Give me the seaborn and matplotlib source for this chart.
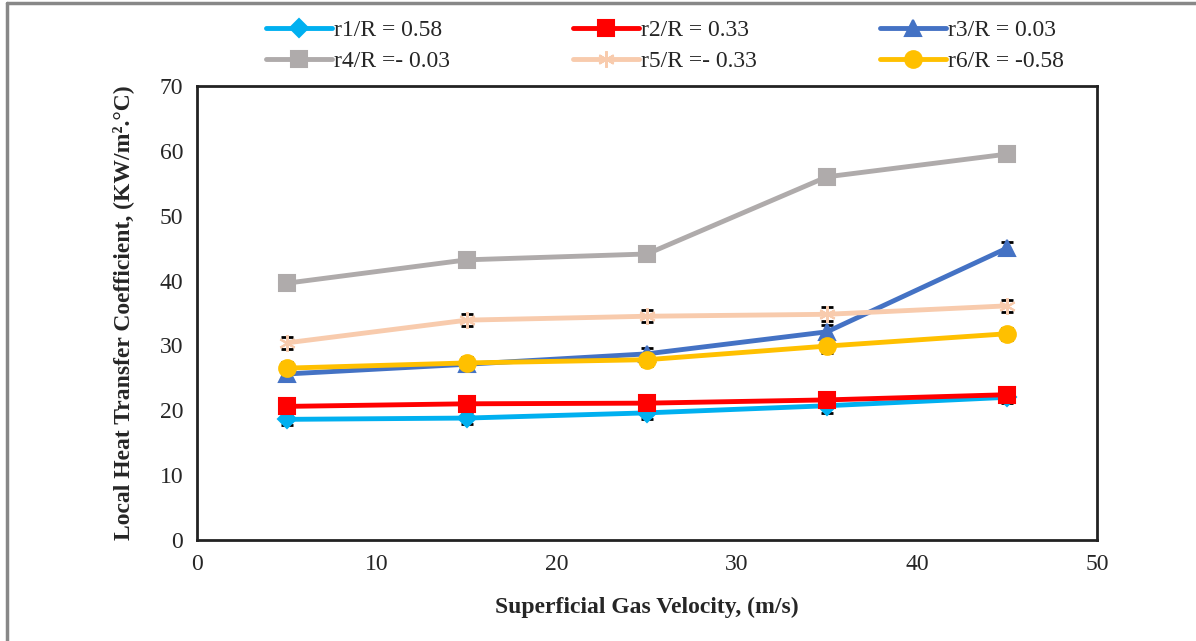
import numpy as np
import pandas as pd
import matplotlib.pyplot as plt
import seaborn as sns

# Superficial gas velocity (m/s)
velocity = [5, 15, 25, 35, 45]

# Local heat transfer coefficient (KW/m2.C) at each radial position
r1 = [18.6, 18.8, 19.6, 20.7, 22.0]
r2 = [20.6, 21.0, 21.1, 21.6, 22.4]
r3 = [25.6, 27.1, 28.7, 32.1, 45.0]
r4 = [39.6, 43.2, 44.1, 56.0, 59.5]
r5 = [30.4, 33.9, 34.5, 34.8, 36.1]
r6 = [26.5, 27.3, 27.8, 29.9, 31.8]

# error bar half-heights
err = [0.9, 0.9, 0.9, 1.1, 0.9]

labels = ["r1/R = 0.58", "r2/R = 0.33", "r3/R = 0.03",
          "r4/R =- 0.03", "r5/R =- 0.33", "r6/R = -0.58"]
series = [r1, r2, r3, r4, r5, r6]
colors = ["#00B0F0", "#FF0000", "#4472C4", "#AFABAB", "#F8CBAD", "#FFC000"]
markers = ["D", "s", "^", "s", (6, 2, 0), "o"]
msizes = [9, 11, 11, 11, 12, 12]

df = pd.DataFrame({
    "velocity": velocity * len(series),
    "h": np.concatenate(series),
    "position": np.repeat(labels, len(velocity)),
})

sns.set_style("white")
plt.rcParams["font.family"] = ["Liberation Serif", "DejaVu Serif"]

fig = plt.figure(figsize=(11.96, 6.41), dpi=100)
ax = fig.add_axes([0.1647, 0.1576, 0.7525, 0.7082])

for lab, col, mk, ms in zip(labels, colors, markers, msizes):
    sub = df[df["position"] == lab]
    ax.errorbar(sub["velocity"], sub["h"], yerr=err, fmt="none",
                ecolor="black", elinewidth=1, capsize=4, capthick=2, zorder=1)
    sns.lineplot(data=sub, x="velocity", y="h", color=col, marker=mk,
                 markersize=ms, markeredgecolor=col, markeredgewidth=1.5,
                 linewidth=3.5, label=lab, ax=ax, zorder=2)

ax.set_xlim(0, 50)
ax.set_ylim(0, 70)
ax.set_xticks(range(0, 51, 10))
ax.set_yticks(range(0, 71, 10))
ax.tick_params(length=0, labelsize=17, pad=10)
for s in ax.spines.values():
    s.set_color("#222222")
    s.set_linewidth(2)

ax.set_xlabel("Superficial Gas Velocity, (m/s)", fontsize=17, fontweight="bold", labelpad=16)
ax.set_ylabel("Local Heat Transfer Coefficient, (KW/m².°C)", fontsize=17,
              fontweight="bold", labelpad=18)

handles, labs = ax.get_legend_handles_labels()
order = [0, 3, 1, 4, 2, 5]
fig.legend([handles[i] for i in order], [labs[i] for i in order],
           loc="center", bbox_to_anchor=(665 / 1196, 1 - 46 / 641), ncol=3,
           frameon=False, fontsize=17, handlelength=2.8, handletextpad=0.1,
           columnspacing=5.2, labelspacing=0.4)
ax.get_legend().remove()

# outer chart border (top and left edges are visible in the reference)
fig.add_artist(plt.Line2D([7 / 1196, 7 / 1196], [0, 1 - 3 / 641], color="#888888", lw=2.5,
                          transform=fig.transFigure))
fig.add_artist(plt.Line2D([7 / 1196, 1], [1 - 3 / 641, 1 - 3 / 641], color="#888888", lw=2.5,
                          transform=fig.transFigure))

fig.savefig("out.png", dpi=100)
